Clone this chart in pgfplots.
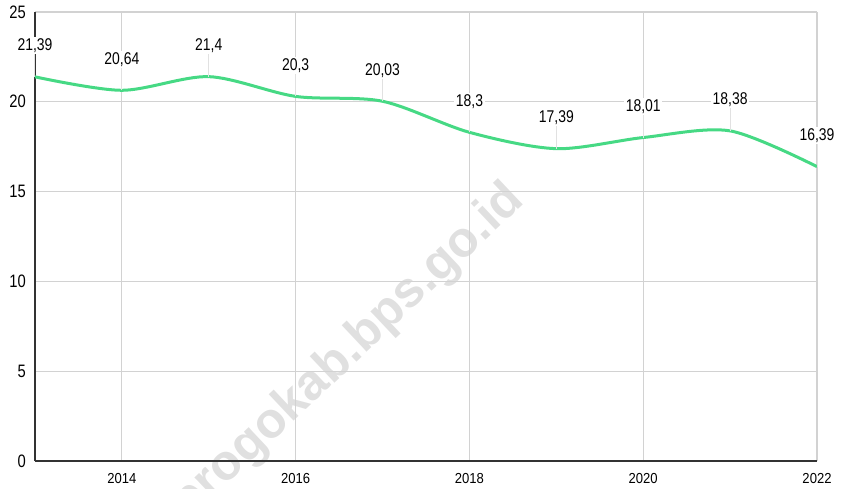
\documentclass[border=0pt]{standalone}
\usepackage{fontspec}
\setmainfont{Liberation Sans}
\newfontfamily\narrowfont{Liberation Sans}[FakeStretch=0.82]
\newfontfamily\xfont{Liberation Sans}[FakeStretch=0.9]
\newfontfamily\wmfont{Liberation Sans}[BoldFont={Liberation Sans Bold}]
\usepackage{pgfplots}
\pgfplotsset{compat=1.18}
\definecolor{linegreen}{RGB}{70,217,132}
\definecolor{gridgray}{RGB}{210,210,210}
\definecolor{leadgray}{RGB}{225,225,225}
\definecolor{axisdark}{RGB}{51,51,51}
\definecolor{wmgray}{RGB}{224,224,224}
\begin{document}
\begin{tikzpicture}
\path[use as bounding box] (-35bp,-28bp) rectangle (807bp,461bp);
\node[rotate=43.3, text=wmgray, font=\wmfont\bfseries\fontsize{50bp}{58bp}\selectfont, inner sep=0pt] at (265bp,63bp) {kulonprogokab.bps.go.id};
\begin{axis}[
  at={(0,0)}, anchor=south west,
  scale only axis,
  width=782bp, height=449bp,
  xmin=2013, xmax=2022,
  ymin=0, ymax=25,
  axis lines*=left,
  axis line style={axisdark, line width=1.5bp},
  xtick={2014,2016,2018,2020,2022},
  ytick={0,5,10,15,20,25},
  major tick length=0pt,
  grid=major,
  major grid style={gridgray, line width=1.2bp},
  /pgf/number format/.cd, use comma, 1000 sep={}, assume math mode=true,
  /pgfplots/.cd,
  xticklabel style={font=\xfont\fontsize{14.5bp}{17bp}\selectfont, anchor=center, inner sep=0pt, yshift=-18bp},
  yticklabel style={font=\narrowfont\fontsize{18bp}{20bp}\selectfont, anchor=east, inner sep=0pt, xshift=-9bp},
  clip=false,
]
\addplot[
  linegreen, line width=3bp, smooth, tension=0.5,
  error bars/.cd, y dir=plus, y fixed=1.72,
  error mark=none, error bar style={leadgray, line width=1bp},
] table {
x y
2013 21.39
2014 20.64
2015 21.4
2016 20.3
2017 20.03
2018 18.3
2019 17.39
2020 18.01
2021 18.38
2022 16.39
};
\addplot[
  draw=none, mark=none,
  nodes near coords,
  nodes near coords style={font=\narrowfont\fontsize{17bp}{19bp}\selectfont, anchor=center, yshift=31bp, fill=white, inner sep=1.5bp, text=black},
] table {
x y
2013 21.39
2014 20.64
2015 21.4
2016 20.3
2017 20.03
2018 18.3
2019 17.39
2020 18.01
2021 18.38
2022 16.39
};
\end{axis}
\end{tikzpicture}
\end{document}
